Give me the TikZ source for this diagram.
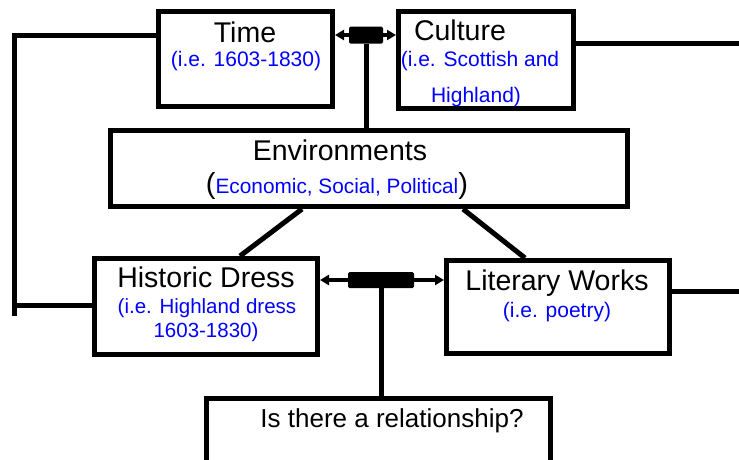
\documentclass[tikz,border=0pt]{standalone}
\usepackage{fontspec}
\setmainfont{Liberation Sans}
\usetikzlibrary{arrows.meta,calc}
\tikzset{
  box/.style={draw=black, line width=5pt, fill=white, inner sep=0pt, anchor=center},
  hub/.style={fill=black, inner sep=0pt, rounded corners=1.5pt},
  conn/.style={line width=5pt, draw=black},
  arr/.style={line width=4pt, draw=black, -{Triangle[length=9pt,width=10pt]}},
  big/.style={font=\fontsize{28.5}{30}\selectfont, inner sep=0pt, anchor=base},
  mid/.style={font=\fontsize{26}{28}\selectfont, inner sep=0pt, anchor=base},
  sub/.style={font=\fontsize{21}{23}\selectfont, text=blue, inner sep=0pt, anchor=base},
  subs/.style={font=\fontsize{20.5}{22}\selectfont, text=blue, inner sep=0pt, anchor=base}
}
\begin{document}
\begin{tikzpicture}[x=1pt,y=-1pt]
\path[use as bounding box, clip] (0,0) rectangle (739,459);
\fill[white] (0,0) rectangle (739,459);

% boxes
\node[box, minimum width=174pt, minimum height=95pt] (time) at (245.5,59) {};
\node[box, minimum width=175pt, minimum height=97pt] (cu) at (486,60) {};
\node[box, minimum width=517pt, minimum height=76pt] (env) at (369,168.5) {};
\node[box, minimum width=223pt, minimum height=96pt] (hd) at (206,306.5) {};
\node[box, minimum width=223pt, minimum height=93pt] (lw) at (558,307) {};
\node[box, minimum width=344pt, minimum height=122pt] (q) at (378.5,459.5) {};

% hubs
\node[hub, minimum width=34pt, minimum height=17pt] (hubT) at (366,35) {};
\node[hub, minimum width=66pt, minimum height=16pt] (hubB) at (381,280) {};

% coordinates for free ends
\coordinate (lt) at (14,35);
\coordinate (lb) at (14,316);
\coordinate (rt) at (739,43);
\coordinate (rb) at (739,291);

% connectors
\draw[arr] (hubT.west) -- (time.east |- hubT);
\draw[arr] (hubT.east) -- (cu.west |- hubT);
\draw[conn] (hubT.south) -- (hubT.south |- env.north);
\draw[arr] (hubB.west) -- (hd.east |- hubB);
\draw[arr] (hubB.east) -- (lw.west |- hubB);
\draw[conn] (hubB.south) -- (hubB.south |- q.north);
\draw[conn] (time.west |- hubT) -- (lt) -- (lb);
\draw[conn] (hd.west |- 0,305) -- (lt |- 0,305);
\draw[conn] (cu.east |- rt) -- (rt);
\draw[conn] (lw.east |- rb) -- (rb);
\draw[conn] ([xshift=-67pt]env.south) -- ([xshift=34pt]hd.north);
\draw[conn] ([xshift=94pt]env.south) -- ([xshift=-33pt]lw.north);

% texts
\node[big] (tTime) at (245,42) {Time};
\node[sub] (sTime) at (246,66.5) {(i.e. 1603-1830)};
\node[big] (tCu) at (460,40) {Culture};
\node[sub] (sCu1) at (480,66.5) {(i.e. Scottish and};
\node[sub] (sCu2) at (476,102) {Highland)};
\node[big] (tEnv) at (340,160) {Environments};
\node[inner sep=0pt, anchor=base] (sEnv) at (337,193) {{\fontsize{29}{30}\selectfont(}{\color{blue}\fontsize{20.8}{22}\selectfont Economic, Social, Political}{\fontsize{29}{30}\selectfont)}};
\node[big] (tHd) at (206,287) {Historic Dress};
\node[subs] (sHd1) at (207,313) {(i.e. Highland dress};
\node[subs] (sHd2) at (206,337) {1603-1830)};
\node[big] (tLw) at (557,290) {Literary Works};
\node[sub] (sLw) at (557,317) {(i.e. poetry)};
\node[mid] (tQ) at (392,427) {Is there a relationship?};
\end{tikzpicture}
\end{document}
